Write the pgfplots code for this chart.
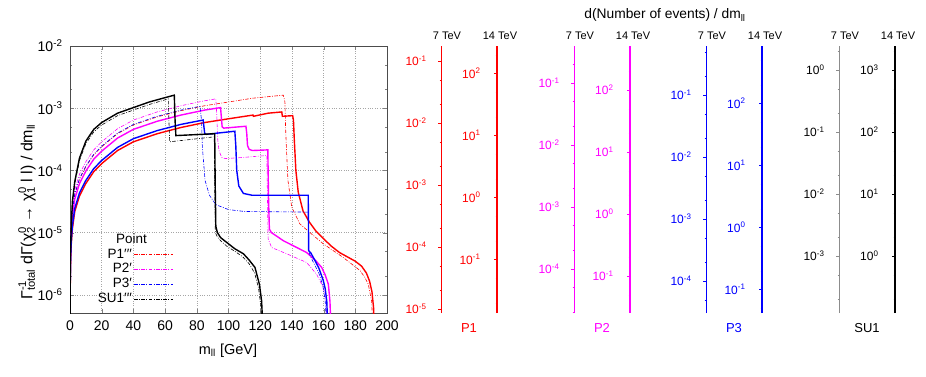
\documentclass[border=0pt]{standalone}
\usepackage{pgfplots}
\pgfplotsset{compat=1.18}
\usepackage{pgfplotstable}
\usepackage{fontspec}
\setmainfont{Liberation Sans}
\newcommand\fs[1]{\fontsize{#1}{#1}\selectfont}
\newcommand\sps[1]{10\textsuperscript{#1}}

% m_ll [GeV]   normalised dGamma/dm_ll
\pgfplotstableread{
m y
0 1e-9
0.1 9.12e-7
0.3 2.884e-6
0.7 6.026e-6
1.5 1.148e-5
3 2.188e-5
6 3.890e-5
10 6.166e-5
15 9.550e-5
20 1.288e-4
30 2.089e-4
40 2.884e-4
55 3.890e-4
70 4.898e-4
85 5.888e-4
100 6.761e-4
115.5 7.762e-4
115.7 7.413e-4
125 8.318e-4
133.6 8.710e-4
134.0 7.413e-4
140.5 7.586e-4
141.0 6.310e-4
141.5 3.162e-4
142.5 1.0e-4
144 4.467e-5
147 2.239e-5
151 1.479e-5
155 1.072e-5
160 7.943e-6
165 6.026e-6
170 4.786e-6
175 4.074e-6
180 3.467e-6
184 2.884e-6
187 2.239e-6
189 1.660e-6
190.5 1.122e-6
191.5 6.310e-7
192 3.162e-7
192.3 1e-8
}\pone
\pgfplotstableread{
m y
0 1e-9
0.1 1.698e-6
0.3 5.370e-6
0.7 1.122e-5
1.5 2.138e-5
3 4.074e-5
6 7.244e-5
10 1.148e-4
15 1.778e-4
20 2.399e-4
30 3.890e-4
40 5.370e-4
55 7.244e-4
70 9.120e-4
85 1.096e-3
100 1.259e-3
115 1.445e-3
134.6 1.622e-3
135.6 1.259e-3
136 5.012e-4
136.5 2.399e-4
137.5 6.918e-5
139.9 2.570e-5
145 1.380e-5
151.4 1.0e-5
159.8 6.607e-6
172.4 3.981e-6
183 2.455e-6
186 1.905e-6
188.2 1.479e-6
190.3 7.943e-7
191 3.162e-7
191.2 1e-8
}\ponep
\pgfplotstableread{
m y
0 1e-9
0.1 1.445e-6
0.3 4.571e-6
0.7 9.550e-6
1.5 1.820e-5
3 3.467e-5
6 6.166e-5
10 9.772e-5
15 1.514e-4
20 2.042e-4
30 3.311e-4
40 4.571e-4
55 6.166e-4
70 7.762e-4
85 9.333e-4
95 1.023e-3
95.5 7.079e-4
96 5.012e-4
97 4.786e-4
111 5.129e-4
111.5 3.981e-4
112 2.512e-4
113 2.188e-4
115 2.089e-4
124.8 2.138e-4
125.3 3.162e-5
125.8 1.148e-5
127 1.0e-5
130 8.913e-6
134.6 7.413e-6
140 6.310e-6
149.3 4.786e-6
155 3.548e-6
158.8 2.754e-6
161 2.089e-6
163 1.479e-6
164 7.943e-7
164.6 3.162e-7
164.8 1e-8
}\ptwo
\pgfplotstableread{
m y
0 1e-9
0.1 2.042e-6
0.3 6.457e-6
0.7 1.349e-5
1.5 2.570e-5
3 4.898e-5
6 8.710e-5
10 1.380e-4
15 2.138e-4
20 2.884e-4
30 4.677e-4
40 6.457e-4
55 8.710e-4
70 1.096e-3
85 1.318e-3
92 1.413e-3
92.6 7.943e-4
93.2 3.162e-4
94 2.089e-4
95.7 1.622e-4
98 1.549e-4
110 1.622e-4
124.2 1.738e-4
124.6 3.162e-5
125 7.943e-6
127.2 5.754e-6
136.7 4.571e-6
149.3 3.311e-6
155.6 2.138e-6
159.8 1.318e-6
161.5 7.943e-7
162.2 3.162e-7
162.4 1e-8
}\ptwop
\pgfplotstableread{
m y
0 1e-9
0.1 1.023e-6
0.3 3.236e-6
0.7 6.761e-6
1.5 1.288e-5
3 2.455e-5
6 4.365e-5
10 6.918e-5
15 1.072e-4
20 1.445e-4
30 2.344e-4
40 3.236e-4
55 4.365e-4
70 5.495e-4
84 6.457e-4
84.5 5.012e-4
85 3.890e-4
86 3.802e-4
104 4.266e-4
104.6 2.512e-4
105.2 1.0e-4
106.5 5.623e-5
109.4 4.266e-5
115 3.981e-5
150.3 3.981e-5
150.6 5.129e-6
152 4.677e-6
154.6 3.548e-6
157 2.692e-6
159.8 1.698e-6
161 1.259e-6
162 7.943e-7
162.6 3.162e-7
162.8 1e-8
}\pthree
\pgfplotstableread{
m y
0 1e-9
0.1 1.738e-6
0.3 5.495e-6
0.7 1.148e-5
1.5 2.188e-5
3 4.169e-5
6 7.413e-5
10 1.175e-4
15 1.820e-4
20 2.455e-4
30 3.981e-4
40 5.495e-4
55 7.413e-4
70 9.333e-4
82 1.072e-3
83 6.310e-4
83.5 2.399e-4
85.2 6.918e-5
88 3.981e-5
92 2.818e-5
100 2.344e-5
110 2.188e-5
150.3 2.138e-5
150.6 5.012e-6
152 3.981e-6
154 3.162e-6
157 2.239e-6
159.5 1.413e-6
161 7.943e-7
161.8 3.162e-7
162 1e-8
}\pthreep
\pgfplotstableread{
m y
0 1e-9
0.1 1.259e-6
0.3 4.467e-6
0.7 1.122e-5
1.5 3.162e-5
3 6.607e-5
6 1.585e-4
10 2.951e-4
15 4.571e-4
20 5.888e-4
30 8.318e-4
40 1.023e-3
50 1.259e-3
60 1.479e-3
65.8 1.622e-3
66.3 6.310e-4
66.8 3.631e-4
91.3 3.890e-4
91.6 6.310e-5
92 1.259e-5
93 1.0e-5
95 8.318e-6
99 6.918e-6
104 5.495e-6
109.4 4.571e-6
113 3.631e-6
116.7 2.754e-6
119.5 1.479e-6
120.9 7.943e-7
121.6 3.162e-7
121.8 1e-8
}\suone
\pgfplotstableread{
m y
0 1e-9
0.1 1.122e-6
0.3 3.981e-6
0.7 1.0e-5
1.5 2.818e-5
3 6.026e-5
6 1.445e-4
10 2.692e-4
15 4.169e-4
20 5.370e-4
30 7.586e-4
40 9.333e-4
50 1.148e-3
62 1.413e-3
62.4 6.310e-4
62.9 2.884e-4
91 3.467e-4
91.3 5.012e-5
91.7 1.0e-5
93 8.511e-6
95 7.413e-6
99 6.026e-6
104 5.012e-6
109 4.074e-6
113 3.162e-6
116.5 2.239e-6
119 1.259e-6
120.5 6.310e-7
121.2 3.162e-7
121.4 1e-8
}\suonep

\definecolor{su7}{gray}{0.55}
\definecolor{mag}{rgb}{1,0,1}
\definecolor{rd}{rgb}{1,0,0}
\definecolor{bl}{rgb}{0,0,1}

\pgfplotsset{
  dd/.style={line width=0.6pt, dash pattern=on 3.5pt off 1.5pt on 0.8pt off 1.5pt},
  rightax/.style={anchor=south west, scale only axis,
    width=4pt, height=267pt, xmin=0, xmax=1,
    axis x line=none, axis y line=left, ytick pos=left,
    tick align=outside, major tick length=3pt, minor tick length=1.5pt,
    ticklabel style={font=\fs{12}}},
}

\begin{document}
\begin{tikzpicture}[x=1pt, y=1pt]
\path[use as bounding box] (0,0) rectangle (926,376);

\begin{axis}[
  ymode=log,
  at={(70pt,63pt)}, anchor=south west,
  scale only axis, width=317pt, height=267pt,
  xmin=0, xmax=200, ymin=5.1e-7, ymax=1e-2,
  xtick={0,20,...,200},
  ytick={1e-6,1e-5,1e-4,1e-3,1e-2},
  yticklabels={\sps{-6},\sps{-5},\sps{-4},\sps{-3},\sps{-2}},
  minor ytick={2e-6,5e-6,2e-5,5e-5,2e-4,5e-4,2e-3,5e-3},
  grid=major, major grid style={black!35, dotted, line width=0.5pt},
  tick align=inside, major tick length=4pt, minor tick length=2pt,
  axis line style={black!70, line width=0.8pt},
  ticklabel style={font=\fs{14}},
  yticklabel style={xshift=-4pt},
  xticklabel style={yshift=-4pt},
  /pgf/number format/assume math mode=true,
  legend style={at={(0.33,0.31)}, anchor=north east, draw=none,
    fill=none, font=\fs{13.5}, row sep=0pt, inner sep=1pt},
  legend cell align=right, legend plot pos=right,
  legend image code/.code={\draw[#1] (0pt,0pt) -- (39pt,0pt);},
]
\addplot[rd, line width=1.4pt, forget plot] table {\pone};
\addplot[rd, dd, forget plot] table {\ponep};
\addplot[mag, line width=1.4pt, forget plot] table {\ptwo};
\addplot[mag, dd, forget plot] table {\ptwop};
\addplot[bl, line width=1.4pt, forget plot] table {\pthree};
\addplot[bl, dd, forget plot] table {\pthreep};
\addplot[black, line width=1.4pt, forget plot] table {\suone};
\addplot[black, dd, forget plot] table {\suonep};

\addlegendimage{empty legend}
\addlegendentry{Point\hspace*{-15pt}}
\addlegendimage{rd, line width=0.6pt, dash pattern=on 3.5pt off 1.5pt on 0.8pt off 1.5pt}
\addlegendentry{P1′′′}
\addlegendimage{mag, line width=0.6pt, dash pattern=on 3.5pt off 1.5pt on 0.8pt off 1.5pt}
\addlegendentry{P2′}
\addlegendimage{bl, line width=0.6pt, dash pattern=on 3.5pt off 1.5pt on 0.8pt off 1.5pt}
\addlegendentry{P3′}
\addlegendimage{black, line width=0.6pt, dash pattern=on 3.5pt off 1.5pt on 0.8pt off 1.5pt}
\addlegendentry{SU1′′′}
\end{axis}

% P1
\begin{axis}[ymode=log, rightax, at={(441pt,63pt)},
  y axis line style={rd, -, line width=0.8pt}, ytick style={rd},
  yticklabel style={rd, xshift=-8pt},
  ymin=8.63e-6, ymax=0.1746,
  ytick={1e-5,1e-4,1e-3,1e-2,1e-1},
  yticklabels={\sps{-5},\sps{-4},\sps{-3},\sps{-2},\sps{-1}},
  minor ytick={2e-5,5e-5,2e-4,5e-4,2e-3,5e-3,2e-2,5e-2}]
\addplot[draw=none] coordinates {(0.5,1e-3)};
\end{axis}
\begin{axis}[ymode=log, rightax, at={(497pt,63pt)},
  y axis line style={rd, -, line width=1.4pt}, ytick style={rd},
  yticklabel style={rd, xshift=-10pt},
  ymin=0.01365, ymax=276.1,
  ytick={1e-1,1,10,100},
  yticklabels={\sps{-1},\sps{0},\sps{1},\sps{2}},
  minor ytick={2e-2,5e-2,2e-1,5e-1,2,5,20,50,200}]
\addplot[draw=none] coordinates {(0.5,1)};
\end{axis}
% P2
\begin{axis}[ymode=log, rightax, at={(574pt,63pt)},
  y axis line style={mag, -, line width=0.8pt}, ytick style={mag},
  yticklabel style={mag, xshift=-8pt},
  ymin=1.932e-5, ymax=0.3908,
  ytick={1e-4,1e-3,1e-2,1e-1},
  yticklabels={\sps{-4},\sps{-3},\sps{-2},\sps{-1}},
  minor ytick={2e-5,5e-5,2e-4,5e-4,2e-3,5e-3,2e-2,5e-2,2e-1}]
\addplot[draw=none] coordinates {(0.5,1e-3)};
\end{axis}
\begin{axis}[ymode=log, rightax, at={(630pt,63pt)},
  y axis line style={mag, -, line width=1.4pt}, ytick style={mag},
  yticklabel style={mag, xshift=-10pt},
  ymin=0.02535, ymax=512.9,
  ytick={1e-1,1,10,100},
  yticklabels={\sps{-1},\sps{0},\sps{1},\sps{2}},
  minor ytick={5e-2,2e-1,5e-1,2,5,20,50,200,500}]
\addplot[draw=none] coordinates {(0.5,1)};
\end{axis}
% P3
\begin{axis}[ymode=log, rightax, at={(706pt,63pt)},
  y axis line style={bl, -, line width=0.8pt}, ytick style={bl},
  yticklabel style={bl, xshift=-8pt},
  ymin=3.048e-5, ymax=0.6166,
  ytick={1e-4,1e-3,1e-2,1e-1},
  yticklabels={\sps{-4},\sps{-3},\sps{-2},\sps{-1}},
  minor ytick={5e-5,2e-4,5e-4,2e-3,5e-3,2e-2,5e-2,2e-1,5e-1}]
\addplot[draw=none] coordinates {(0.5,1e-3)};
\end{axis}
\begin{axis}[ymode=log, rightax, at={(762pt,63pt)},
  y axis line style={bl, -, line width=1.4pt}, ytick style={bl},
  yticklabel style={bl, xshift=-10pt},
  ymin=0.04150, ymax=839.5,
  ytick={1e-1,1,10,100},
  yticklabels={\sps{-1},\sps{0},\sps{1},\sps{2}},
  minor ytick={5e-2,2e-1,5e-1,2,5,20,50,200,500}]
\addplot[draw=none] coordinates {(0.5,1)};
\end{axis}
% SU1
\begin{axis}[ymode=log, rightax, at={(839pt,63pt)},
  y axis line style={su7, -, line width=0.9pt}, ytick style={su7},
  yticklabel style={black, xshift=-8pt},
  ymin=1.205e-4, ymax=2.438,
  ytick={1e-3,1e-2,1e-1,1},
  yticklabels={\sps{-3},\sps{-2},\sps{-1},\sps{0}},
  minor ytick={2e-4,5e-4,2e-3,5e-3,2e-2,5e-2,2e-1,5e-1,2}]
\addplot[draw=none] coordinates {(0.5,1e-2)};
\end{axis}
\begin{axis}[ymode=log, rightax, at={(895pt,63pt)},
  y axis line style={black, -, line width=1.4pt}, ytick style={black},
  yticklabel style={black, xshift=-10pt},
  ymin=0.1205, ymax=2438,
  ytick={1,10,100,1000},
  yticklabels={\sps{0},\sps{1},\sps{2},\sps{3}},
  minor ytick={2e-1,5e-1,2,5,20,50,200,500,2000}]
\addplot[draw=none] coordinates {(0.5,10)};
\end{axis}

\foreach \xa/\xb in {441/497, 574/630, 706/762, 839/895} {
  \node[anchor=base, font=\fs{11}, inner sep=0pt] at (\xa+6, 337) {7 TeV};
  \node[anchor=base, font=\fs{11}, inner sep=0pt] at (\xb+3, 337) {14 TeV};
}

\node[anchor=base, font=\fs{14.5}] at (228,22) {m\textsubscript{ll} [GeV]};
\node[rotate=90, font=\fs{16}] at (27,164)
  {Γ\rlap{\textsuperscript{-1}}\textsubscript{total} dΓ(χ\rlap{\textsuperscript{0}}\textsubscript{2} → χ\rlap{\textsuperscript{0}}\textsubscript{1} l l) / dm\textsubscript{ll}};
\node[anchor=base, font=\fs{13.8}] at (665,357) {d(Number of events) / dm\textsubscript{ll}};
\node[anchor=base, rd, font=\fs{13}] at (469,44) {P1};
\node[anchor=base, mag, font=\fs{13}] at (602,44) {P2};
\node[anchor=base, bl, font=\fs{13}] at (734,44) {P3};
\node[anchor=base, font=\fs{13}] at (867,44) {SU1};
\end{tikzpicture}
\end{document}
